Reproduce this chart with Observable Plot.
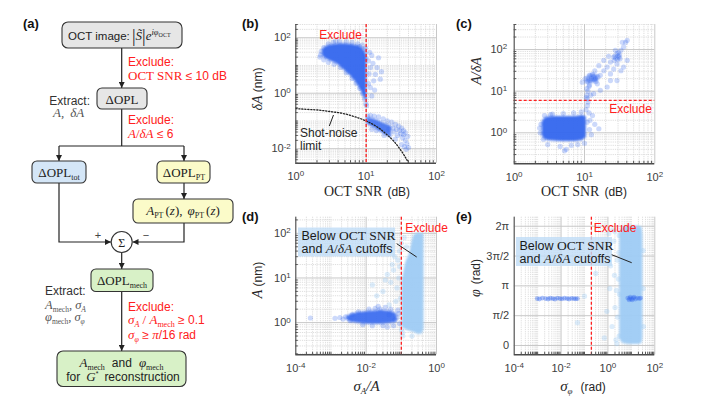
<!DOCTYPE html>
<html><head><meta charset="utf-8">
<script src="https://cdn.jsdelivr.net/npm/d3@7"></script>
<script src="https://cdn.jsdelivr.net/npm/@observablehq/plot@0.6"></script>
<style>
body{margin:0;background:#fff;}
#fig{position:relative;width:711px;height:407px;overflow:hidden;background:#fff;}
#fig svg{position:absolute;}
#overlay{left:0;top:0;pointer-events:none;}
g[aria-label="area"]{filter:blur(0.9px);}
</style></head><body><div id="fig"></div>
<script>
// ---------------- DATA ----------------
// thresholds
const snrCutoff = 10;            // dB
const ratioCutoff = 6;           // A/δA
const sigmaACutoff = 0.1;        // σA/A
const sigmaPhiCutoff = Math.PI / 16; // rad

// (b) δA vs OCT SNR : dense core (upper, SNR<10)
const bUpSnr = [2.4, 2.7, 3.1, 3.9, 4.8, 6.0, 7.4, 8.5, 9.4, 10.2];
const bUpHi  = [36, 48, 55, 60, 61, 58, 52, 45, 33, 22];
const bUpLo  = [22, 17, 14.5, 11, 7, 4.2, 2.2, 1.2, 0.7, 0.5];
const bUpDots = [[2.25,24],[2.3,32],[2.5,44],[2.9,60],[3.4,68],[4.2,72],[5.2,72],[6.3,68],[7.6,60],[8.8,54],[9.8,42],[2.5,16],[2.9,13],[3.5,11],[4.3,8.5],[5.2,5.5],[6.3,3.4],[7.2,2.3],[8.1,1.5],[8.9,0.95],[9.5,0.62],[9.9,0.42],[10.1,0.36],[3.7,74],[2.2,20],
  [10.8,14.7],[12,23],[15,19],[11.5,8.4],[14.3,8.4],[13.5,4.8],[12.8,2.8],[15.9,3.2],[11.5,1.6],[12,0.8],[11,5],[10.8,2.2],[12.5,12],[13.2,1.3],[11.2,30],[16.5,6],[9.6,28],[9.9,18],[9.2,38],[8.1,48]];
// (b) lower cluster (SNR>10)
const bLoSnr = [10.2, 12, 14, 17, 20, 23];
const bLoHi  = [0.13, 0.125, 0.11, 0.088, 0.075, 0.065];
const bLoLo  = [0.08, 0.062, 0.05, 0.036, 0.029, 0.024];
const bLoDots = [[10.5,0.15],[11.5,0.16],[13,0.15],[15,0.14],[17.5,0.12],[20,0.1],[23,0.09],[26,0.075],[29,0.065],[32,0.055],[34,0.045],[36,0.038],[31,0.035],[33,0.025],[36,0.02],[38,0.015],[40,0.011],[37,0.0095],[28,0.03],[25,0.04],[30,0.045],[32,0.014],[26,0.022],[18,0.03],[14,0.045],[34,0.032],[39,0.028],[21,0.05],[24,0.055],[27,0.05],[35,0.012],[12,0.05]];
// (b) shot-noise limit curve
const shotSnr = [1, 1.5, 2, 3, 4, 5, 7, 10, 13, 16, 20, 25, 30, 35, 40, 45];
const shotDA  = [0.28, 0.26, 0.25, 0.22, 0.20, 0.18, 0.14, 0.10, 0.071, 0.050, 0.031, 0.018, 0.010, 0.0056, 0.0031, 0.0018];

// (c) A/δA vs OCT SNR
const cLoSnr = [2.5, 2.8, 4, 6, 8, 9.5, 10.6];
const cLoHi  = [1.8, 2.3, 2.45, 2.45, 2.5, 2.6, 2.4];
const cLoLo  = [0.85, 0.68, 0.63, 0.62, 0.63, 0.66, 0.78];
const cLoDots = [[2.3,1.3],[2.35,1.0],[2.4,1.6],[2.7,2.6],[3.5,2.8],[5,2.9],[7,3.0],[9,3.2],[10.5,3.6],[11,4.5],[11.2,5.5],[11.6,3.0],[12,2.0],[11.8,1.2],[12.5,0.9],[3,0.52],[4.5,0.47],[5.5,0.4],[6.5,0.5],[8,0.52],[10,0.56],[14,1.6],[16,1.25],[13,2.6],[5.2,0.37],[11,6.5],[10.8,8],[11.2,10],[11.6,13],[12.2,8],[10.6,7],[2.6,0.7],[3.3,2.75],[10.9,1.8]];
const cUpSnr = [10.5, 12, 14, 16];
const cUpHi  = [21, 25, 26, 24];
const cUpLo  = [15, 15, 16, 17.5];
const cUpDots = [[9.3,16.5],[10.3,20],[11.8,24],[14.3,20],[16.8,24],[15.2,15],[18.8,31],[21,38],[23.4,50],[26,66],[29,80],[31,66],[33,96],[36,116],[38.5,150],[40.5,167],[34.5,150],[40.5,55],[36,38],[33,31],[29,18],[23.4,26],[21,12.6],[16.8,10.5],[13.5,8.7],[23.4,18],[26,34],[18.8,55],[16,41],[29,45],[11.8,14],[10.8,11.5],[14,31],[22,69],[27.5,96],
  [12.5,20],[13.5,22],[12,18],[14.5,17],[13,25],[11,17],[15.5,22],[13.8,19],[28,62],[30,70],[29.5,58],[31.5,75],[27,70],[32,60],[26.5,55],[30.5,85]];

// (d) A vs σA/A
const dDarkX  = [0.0028, 0.004, 0.007, 0.012, 0.02, 0.035, 0.055, 0.075];
const dDarkHi = [1.35, 1.55, 1.7, 1.8, 1.85, 1.85, 1.75, 1.55];
const dDarkLo = [1.15, 1.02, 0.95, 0.92, 0.92, 0.93, 0.97, 1.05];
const dDarkDots = [[0.00026,1.27],[0.0013,1.25],[0.0018,1.3],[0.0022,1.2],[0.0026,1.35],[0.0035,1.1],[0.004,1.5],[0.006,1.75],[0.008,0.9],[0.012,2.0],[0.018,2.1],[0.025,2.0],[0.035,2.2],[0.05,2.0],[0.06,0.85],[0.075,1.3],[0.085,1.6],[0.09,0.95],[0.03,0.85],[0.015,0.85],[0.045,1.5],[0.065,1.15],[0.08,1.9],[0.022,2.3],[0.04,0.8]];
const dLightX  = [0.105, 0.13, 0.17, 0.23, 0.3, 0.38, 0.44];
const dLightHi = [8, 20, 35, 90, 100, 100, 95];
const dLightLo = [0.8, 0.7, 0.65, 0.6, 0.55, 0.55, 0.7];
const dLightDots = [[0.05,8],[0.03,5],[0.06,15],[0.08,25],[0.09,40],[0.07,3],[0.02,4],[0.04,12],[0.1,60],[0.085,10],[0.095,3.5],[0.11,0.6],[0.015,7],[0.045,2.5],[0.065,30],[0.1,0.7],[0.12,80],[0.14,50],[0.09,18],[0.075,6],[0.055,20],[0.035,9],[0.11,0.5],[0.2,0.5]];

// (e) φ vs σφ
const eDarkX   = [0.00096,0.0012,0.0016,0.0022,0.0028,0.0035,0.0045,0.0055,0.007,0.009,0.011,0.014,0.018,0.022,0.028,0.035,0.042,0.05];
const eDarkPhi = [2.47,2.45,2.5,2.47,2.45,2.49,2.47,2.44,2.5,2.47,2.46,2.49,2.47,2.45,2.48,2.47,2.46,2.47];
const eDark2 = [[7,2.5],[8,2.4],[9,2.55],[10,2.45],[12,2.5],[15,2.45],[18,2.5],[22,2.47],[25,2.5],[8.5,2.47],[11,2.4],[13,2.55]];
const eLightX  = [3.2, 4.5, 10, 20, 28, 31];
const eLightHi = [5.9, 6.25, 6.28, 6.28, 6.25, 5.8];
const eLightLo = [0.35, 0.1, 0.05, 0.05, 0.1, 0.4];
const eLightDots = [[1,5],[1.2,3],[1.5,1],[2,6],[2.5,4.5],[2,2],[3,0.5],[1.8,5.5],[2.8,3.5],[1.3,4.2],[0.9,1.8],[2.2,0.3],[3,5.8],[0.3,3.8],[0.1,2.6],[0.5,5.2],[0.05,1.2],[0.02,4.5],[32,3],[32,5],[33,1],[2.6,1.5],[1.6,6.1],[3.1,2.7],[2.4,0.1],[0.7,0.4],[1.1,5.9],[2.9,4.9],[1.9,3.7],[2.3,2.9]];

// ticks
const snrTicks = [1, 10, 100];
const bDATicks = [0.01, 1, 100];
const cRatioTicks = [1, 10, 100];
const dSigTicks = [1e-4, 1e-2, 1];
const dATicks = [1, 10, 100];
const eSigTicks = [1e-4, 1e-2, 1, 100];
const ePhiTicks = [0, Math.PI/2, Math.PI, 3*Math.PI/2, 2*Math.PI];
const ePhiLabels = ["0", "π/2", "π", "3π/2", "2π"];

// ---------------- STYLE ----------------
const DARK = "#3366ee", LIGHT = "#9ecbf4", RED = "#ff2020";
const SANS = '"Liberation Sans", Arial, sans-serif';
const fig = document.getElementById("fig");
const svgNS = "http://www.w3.org/2000/svg";

function band(xs, lo, hi){ return xs.map((x,i)=>({x, lo: lo[i], hi: hi[i]})); }
function logGrid(lo, hi, major){
  const out=[];
  for(let e=Math.floor(Math.log10(lo)); e<=Math.ceil(Math.log10(hi)); e++)
    for(let k=1;k<=9;k++){
      const v = +(k*Math.pow(10,e)).toPrecision(6);
      if(v>=lo*0.999 && v<=hi*1.001 && !major.some(m=>Math.abs(m-v)/m<1e-6)) out.push(v);
    }
  return out;
}
const pow10 = d => "10^" + Math.round(Math.log10(d));
function supify(svg){
  svg.querySelectorAll("text").forEach(t=>{
    const m = t.textContent.match(/^10\^(-?\d+)$/);
    if(!m) return;
    t.textContent = "10";
    const s = document.createElementNS(svgNS,"tspan");
    s.setAttribute("dy","-0.45em"); s.setAttribute("font-size","8"); s.textContent = m[1];
    t.appendChild(s);
  });
}
const dots = (arr, fill, op, r=2.6) => Plot.dot(arr, {x: d=>d[0], y: d=>d[1], r, fill, fillOpacity: op, stroke: "none", clip: true});
const area = (tbl, fill, op=0.95, curve="catmull-rom") => Plot.areaY(tbl, {x:"x", y1:"lo", y2:"hi", fill, fillOpacity: op, curve, clip: true});

function panel(o){
  const svg = Plot.plot({
    width:o.w, height:o.h, marginLeft:o.ml, marginRight:o.mr, marginTop:o.mt, marginBottom:o.mb,
    x:{type:"log", domain:o.xDomain},
    y:{type:o.yType||"log", domain:o.yDomain},
    style:{fontFamily:SANS, fontSize:"11px", color:"#404040", background:"transparent", overflow:"visible"},
    marks:[
      Plot.ruleX(o.xMinor,{stroke:"#d6d6d6",strokeWidth:0.8,strokeDasharray:"1.2,1"}),
      Plot.ruleY(o.yMinor||[],{stroke:"#d6d6d6",strokeWidth:0.8,strokeDasharray:"1.2,1"}),
      Plot.ruleX(o.xTicks,{stroke:"#c8c8c8"}),
      Plot.ruleY(o.yTicks,{stroke:"#c8c8c8"}),
      ...o.marks,
      Plot.ruleX([o.xDomain[0]],{stroke:"#4a4a4a",strokeWidth:1}),
      Plot.ruleY([o.yDomain[0]],{stroke:"#4a4a4a",strokeWidth:1.6}),
      Plot.axisX({ticks:o.xMinor, tickFormat:()=>"", tickSize:-2.5, color:"#555", label:null}),
      Plot.axisY({ticks:o.yMinor||[], tickFormat:()=>"", tickSize:-2.5, color:"#555", label:null}),
      Plot.axisX({ticks:o.xTicks, tickFormat:pow10, tickSize:0, tickPadding:o.xPad??9, fontSize:11, color:"#404040", label:null}),
      Plot.axisY({ticks:o.yTicks, tickFormat:o.yFmt||pow10, tickSize:0, tickPadding:o.yPad??5, fontSize:11, color:"#404040", label:null})
    ]
  });
  svg.style.left = o.left+"px"; svg.style.top = o.top+"px";
  supify(svg);
  fig.appendChild(svg);
}

// (b)
panel({left:235, top:0, w:236, h:200, ml:60.3, mr:35, mt:24, mb:37.3,
  xDomain:[1,100], yDomain:[0.003,300], xTicks:snrTicks, yTicks:bDATicks,
  xMinor:logGrid(1,100,snrTicks), yMinor:logGrid(0.003,300,bDATicks),
  marks:[
    area(band(bUpSnr,bUpLo,bUpHi), DARK),
    dots(bUpDots, DARK, 0.25),
    area(band(bLoSnr,bLoLo,bLoHi), DARK, 0.85),
    dots(bLoDots, DARK, 0.25),
    Plot.line(shotSnr.map((s,i)=>({s, v:shotDA[i]})), {x:"s", y:"v", stroke:"#222", strokeWidth:1.3, strokeDasharray:"1.2,1.8", curve:"monotone-x", clip:true}),
    Plot.ruleX([snrCutoff], {stroke:RED, strokeWidth:1.3, strokeDasharray:"3,2"})
  ]});
// (c)
panel({left:470, top:0, w:241, h:200, ml:43.7, mr:56.7, mt:24, mb:36.7,
  xDomain:[1,100], yDomain:[0.18,400], xTicks:snrTicks, yTicks:cRatioTicks, yPad:7,
  xMinor:logGrid(1,100,snrTicks), yMinor:logGrid(0.18,400,cRatioTicks),
  marks:[
    area(band(cLoSnr,cLoLo,cLoHi), DARK),
    dots(cLoDots, DARK, 0.25),
    area(band(cUpSnr,cUpLo,cUpHi), DARK, 0.55),
    dots(cUpDots, DARK, 0.25),
    Plot.ruleY([ratioCutoff], {stroke:RED, strokeWidth:1.3, strokeDasharray:"3,2"})
  ]});
// (d)
panel({left:235, top:195, w:236, h:212, ml:60.3, mr:35, mt:21.7, mb:52.7,
  xDomain:[1e-4,1], yDomain:[0.19,230], xTicks:dSigTicks, yTicks:dATicks,
  xMinor:logGrid(1e-4,1,dSigTicks), yMinor:logGrid(0.19,230,dATicks),
  marks:[
    area(band(dLightX,dLightLo,dLightHi), LIGHT, 0.95, "monotone-x"),
    dots(dLightDots, LIGHT, 0.35),
    area(band(dDarkX,dDarkLo,dDarkHi), DARK, 0.9),
    dots(dDarkDots, DARK, 0.25),
    Plot.ruleX([sigmaACutoff], {stroke:RED, strokeWidth:1.3, strokeDasharray:"3,2"})
  ]});
// (e)
panel({left:470, top:195, w:241, h:212, ml:43.7, mr:56.7, mt:21.7, mb:52.7,
  xDomain:[1e-4,100], yDomain:[-0.49,6.76], yType:"linear", xTicks:eSigTicks, yTicks:ePhiTicks, yPad:5,
  yFmt: d => ePhiLabels[ePhiTicks.indexOf(d)],
  xMinor:logGrid(1e-4,100,eSigTicks), yMinor:[],
  marks:[
    area(band(eLightX,eLightLo,eLightHi), LIGHT, 0.95, "monotone-x"),
    dots(eLightDots, LIGHT, 0.35),
    dots(eDarkX.map((x,i)=>[x,eDarkPhi[i]]), DARK, 0.4, 2.4),
    dots(eDark2, DARK, 0.35, 2.4),
    Plot.ruleX([sigmaPhiCutoff], {stroke:RED, strokeWidth:1.3, strokeDasharray:"3,2"})
  ]});

// ---------------- OVERLAY: flowchart (a), labels, annotations ----------------
const SER = 'font-family="Liberation Serif, Times New Roman, serif"';
fig.insertAdjacentHTML("beforeend", `
<svg id="overlay" width="711" height="407" font-family='"Liberation Sans", Arial, sans-serif'>
<defs><marker id="ah" viewBox="0 0 8 8" refX="8" refY="4" markerWidth="6" markerHeight="6" markerUnits="userSpaceOnUse" orient="auto"><path d="M0,0L8,4L0,8z" fill="#222"/></marker></defs>
<g font-weight="bold" font-size="13" fill="#111">
<text x="23" y="28">(a)</text><text x="242" y="28">(b)</text><text x="456" y="28">(c)</text><text x="242" y="221">(d)</text><text x="456" y="221">(e)</text>
</g>
<g stroke="#222" stroke-width="1.2" fill="none">
<path d="M121.7,48V88" marker-end="url(#ah)"/>
<path d="M121.7,109V146M59,146H184"/>
<path d="M59,146V161" marker-end="url(#ah)"/>
<path d="M184,146V161" marker-end="url(#ah)"/>
<path d="M184,183V199" marker-end="url(#ah)"/>
<path d="M59,183V242H111" marker-end="url(#ah)"/>
<path d="M184,223V242H132.5" marker-end="url(#ah)"/>
<path d="M121.7,252.5V269" marker-end="url(#ah)"/>
<path d="M121.7,291.5V351" marker-end="url(#ah)"/>
</g>
<g stroke="#333" stroke-width="1.1">
<rect x="62" y="22" width="120" height="26" rx="6" fill="#e6e6e6"/>
<rect x="97" y="88" width="50" height="21" rx="5" fill="#e6e6e6"/>
<rect x="32" y="161" width="54" height="22" rx="5" fill="#d4e6f7"/>
<rect x="157" y="161" width="53" height="22" rx="5" fill="#fbfbc9"/>
<rect x="133" y="199" width="100" height="24" rx="5" fill="#fbfbc9"/>
<circle cx="121.7" cy="242" r="10.5" fill="#fff"/>
<rect x="91" y="269" width="62" height="22.5" rx="5" fill="#d8f1c7"/>
<rect x="57" y="351" width="129" height="35.5" rx="6" fill="#d8f1c7"/>
</g>
<g fill="#222" font-size="12">
<text x="68" y="40" font-size="11.5">OCT image:</text>
<text x="132" y="40" ${SER} font-size="13"><tspan font-size="18" dy="1.5">|</tspan><tspan font-style="italic" dy="-1.5">S̃</tspan><tspan font-size="18" dy="1.5">|</tspan><tspan font-style="italic" dy="-1.5">e</tspan><tspan font-size="8.5" font-style="italic" dy="-5">iφ</tspan><tspan font-size="6" dy="1.5">OCT</tspan></text>
<text x="122" y="103.5" ${SER} font-size="13" text-anchor="middle">ΔOPL</text>
<text x="59" y="176.5" ${SER} font-size="13" text-anchor="middle">ΔOPL<tspan font-size="8" dy="3">tot</tspan></text>
<text x="184" y="176.5" ${SER} font-size="13" text-anchor="middle">ΔOPL<tspan font-size="8" dy="3">PT</tspan></text>
<text x="183" y="215" ${SER} font-size="13" text-anchor="middle"><tspan font-style="italic">A</tspan><tspan font-size="8" dy="3">PT</tspan><tspan dy="-3" dx="2">(</tspan><tspan font-style="italic">z</tspan>),<tspan font-style="italic" dx="5">φ</tspan><tspan font-size="8" dy="3">PT</tspan><tspan dy="-3" dx="2">(</tspan><tspan font-style="italic">z</tspan>)</text>
<text x="121.7" y="246.5" ${SER} font-size="12" text-anchor="middle">Σ</text>
<text x="98" y="239" font-size="11" fill="#444" text-anchor="middle">+</text>
<text x="146" y="239" font-size="11" fill="#444" text-anchor="middle">−</text>
<text x="122" y="284.5" ${SER} font-size="13" text-anchor="middle">ΔOPL<tspan font-size="8" dy="3">mech</tspan></text>
<text x="121.5" y="367" text-anchor="middle"><tspan ${SER} font-size="13" font-style="italic">A</tspan><tspan ${SER} font-size="8" dy="3">mech</tspan><tspan dy="-3" dx="7">and</tspan><tspan ${SER} font-size="13" font-style="italic" dx="7">φ</tspan><tspan ${SER} font-size="8" dy="3">mech</tspan></text>
<text x="123" y="380.5" text-anchor="middle">for<tspan ${SER} font-size="13" font-style="italic" dx="6">G</tspan><tspan font-size="7" dy="-5">*</tspan><tspan dy="5" dx="6">reconstruction</tspan></text>
<text x="90" y="104.5" text-anchor="end" fill="#333">Extract:</text>
<text x="53" y="116.5" ${SER} font-size="13" font-style="italic" fill="#555">A,<tspan dx="6">δA</tspan></text>
<text x="45" y="294.5" fill="#333">Extract:</text>
<text x="45" y="308.5" ${SER} font-size="12.5" fill="#555"><tspan font-style="italic">A</tspan><tspan font-size="7.5" dy="3">mech</tspan><tspan dy="-3">, </tspan><tspan font-style="italic">σ</tspan><tspan font-size="7.5" font-style="italic" dy="3">A</tspan></text>
<text x="45" y="320.5" ${SER} font-size="12.5" fill="#555"><tspan font-style="italic">φ</tspan><tspan font-size="7.5" dy="3">mech</tspan><tspan dy="-3">, </tspan><tspan font-style="italic">σ</tspan><tspan font-size="7.5" font-style="italic" dy="3">φ</tspan></text>
</g>
<g fill="${RED}" font-size="12">
<text x="128" y="66">Exclude:</text>
<text x="128" y="79.5"><tspan ${SER} font-size="13">OCT SNR</tspan> ≤ 10 dB</text>
<text x="128" y="124">Exclude:</text>
<text x="128" y="137.5"><tspan ${SER} font-size="13" font-style="italic">A</tspan><tspan ${SER} font-size="13">/</tspan><tspan ${SER} font-size="13" font-style="italic">δA</tspan> ≤ 6</text>
<text x="128" y="311">Exclude:</text>
<text x="128" y="324"><tspan ${SER} font-size="13" font-style="italic">σ</tspan><tspan ${SER} font-size="8" font-style="italic" dy="3">A</tspan><tspan ${SER} font-size="13" dy="-3"> / </tspan><tspan ${SER} font-size="13" font-style="italic">A</tspan><tspan ${SER} font-size="8" dy="3">mech</tspan><tspan dy="-3"> ≥ 0.1</tspan></text>
<text x="128" y="339"><tspan ${SER} font-size="13" font-style="italic">σ</tspan><tspan ${SER} font-size="8" font-style="italic" dy="3">φ</tspan><tspan dy="-3"> ≥ </tspan><tspan ${SER} font-size="13" font-style="italic">π</tspan>/16 rad</text>
<text x="340.5" y="38.5" text-anchor="middle">Exclude</text>
<text x="630.5" y="112.5" text-anchor="middle">Exclude</text>
<text x="426.5" y="231.5" text-anchor="middle">Exclude</text>
<text x="615" y="231.5" text-anchor="middle">Exclude</text>
</g>
<g fill="#262626" font-size="12">
<text x="300" y="137">Shot-noise</text>
<text x="300" y="149.5">limit</text>
<line x1="333.5" y1="115" x2="329.3" y2="126" stroke="#222" stroke-width="1"/>
<text transform="translate(262,89) rotate(-90)" text-anchor="middle"><tspan ${SER} font-size="14" font-style="italic">δA</tspan> (nm)</text>
<text x="367" y="196" text-anchor="middle"><tspan ${SER} font-size="14">OCT SNR</tspan><tspan dx="5">(dB)</tspan></text>
<text x="584" y="196" text-anchor="middle"><tspan ${SER} font-size="14">OCT SNR</tspan><tspan dx="5">(dB)</tspan></text>
<text transform="translate(481,71) rotate(-90)" text-anchor="middle" ${SER} font-size="14" font-style="italic">A/δA</text>
<text transform="translate(262,280) rotate(-90)" text-anchor="middle"><tspan ${SER} font-size="14" font-style="italic">A</tspan> (nm)</text>
<text x="366.5" y="391" text-anchor="middle" ${SER} font-size="15" font-style="italic">σ<tspan font-size="9" dy="3">A</tspan><tspan dy="-3">/A</tspan></text>
<text transform="translate(480,278) rotate(-90)" text-anchor="middle"><tspan ${SER} font-size="14" font-style="italic">φ</tspan><tspan dx="5">(rad)</tspan></text>
<text x="583" y="391" text-anchor="middle"><tspan ${SER} font-size="15" font-style="italic">σ</tspan><tspan ${SER} font-size="9" font-style="italic" dy="3">φ</tspan><tspan dy="-3" dx="8">(rad)</tspan></text>
</g>
<g font-size="12.5" fill="#1a1a1a">
<rect x="298" y="227.5" width="97" height="29" fill="#bfdcf6" fill-opacity="0.8"/>
<text x="301.5" y="239.5">Below <tspan ${SER} font-size="13.5">OCT SNR</tspan></text>
<text x="301.5" y="253">and <tspan ${SER} font-size="13.5" font-style="italic">A</tspan><tspan ${SER} font-size="13.5">/</tspan><tspan ${SER} font-size="13.5" font-style="italic">δA</tspan> cutoffs</text>
<line x1="396.7" y1="243.7" x2="416.7" y2="257" stroke="#222" stroke-width="1"/>
<rect x="516" y="237" width="96" height="29" fill="#bfdcf6" fill-opacity="0.8"/>
<text x="519.5" y="249.5">Below <tspan ${SER} font-size="13.5">OCT SNR</tspan></text>
<text x="519.5" y="263">and <tspan ${SER} font-size="13.5" font-style="italic">A</tspan><tspan ${SER} font-size="13.5">/</tspan><tspan ${SER} font-size="13.5" font-style="italic">δA</tspan> cutoffs</text>
<line x1="611.7" y1="254.7" x2="631.7" y2="262.7" stroke="#222" stroke-width="1"/>
</g>
</svg>`);
</script></body></html>
